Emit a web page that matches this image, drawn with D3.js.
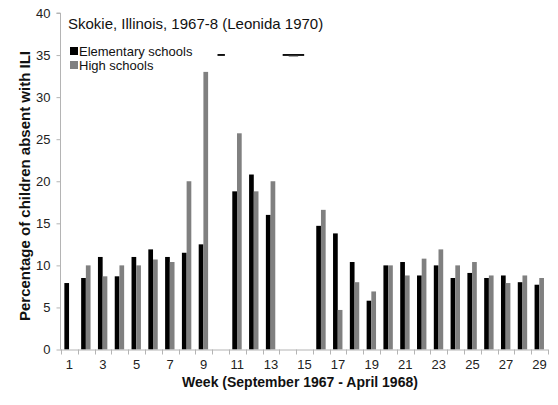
<!DOCTYPE html>
<html><head><meta charset="utf-8">
<script src="https://cdn.jsdelivr.net/npm/d3@7"></script>
<style>body{margin:0;background:#fff}svg{display:block;font-family:"Liberation Sans",Arial,sans-serif}</style>
</head><body>
<script>
const weeks = d3.range(1, 30);
const elementary = [7.9,8.5,11,8.7,11,11.9,11,11.5,12.5,null,18.8,20.8,16,null,null,14.7,13.8,10.4,5.8,10,10.4,8.8,10,8.5,9.1,8.5,8.8,8,7.7];
const highSchool = [null,10,8.7,10,10,10.7,10.4,20,33,null,25.7,18.8,20,null,null,16.6,4.7,8,6.9,10,8.8,10.8,11.9,10,10.4,8.8,7.9,8.8,8.5];
const yTicks = [0,5,10,15,20,25,30,35,40];
const xTickLabels = [1,3,5,7,9,11,13,15,17,19,21,23,25,27,29];
const seriesNames = ["Elementary schools","High schools"];
const seriesColors = ["#000000","#808080"];
const breakMarks = [{from:10,to:10,value:35},{from:14,to:15,value:35}];

const W=558,H=405;
const svg=d3.select("body").append("svg").attr("width",W).attr("height",H);
const x=d3.scaleBand().domain(weeks).range([61,548]).paddingInner(0).paddingOuter(0);
const y=d3.scaleLinear().domain([0,40]).range([349.5,13]);
const bw=x.bandwidth();
const sub=d3.scaleBand().domain([0,1]).range([bw*0.2,bw*0.76]);
const axisColor="#b4b4b4";

// bars
[elementary,highSchool].forEach((vals,si)=>{
  svg.append("g").selectAll("rect").data(weeks.map((w,i)=>({w,v:vals[i]})).filter(d=>d.v!=null))
    .join("rect")
    .attr("x",d=>x(d.w)+sub(si)).attr("width",sub.bandwidth())
    .attr("y",d=>y(d.v)).attr("height",d=>y(0)-y(d.v))
    .attr("fill",seriesColors[si]);
});

// break marks
breakMarks.forEach(m=>{
  const x0 = m.from===m.to ? x(m.from)+sub(0)+2 : x(m.from)+sub(0);
  const x1 = m.from===m.to ? x(m.from)+sub(1)+sub.bandwidth() : x(m.to)+sub(1);
  svg.append("rect").attr("x",x0).attr("width",x1-x0).attr("y",y(m.value)-1).attr("height",1.8).attr("fill","#000");
  if(m.from!==m.to){
    svg.append("rect").attr("x",x0+6).attr("width",x1-x0-12).attr("y",y(m.value)+0.8).attr("height",1).attr("fill","#999");
  }
});

// y axis
const ya=svg.append("g").attr("transform","translate(60.5,0)")
  .call(d3.axisLeft(y).tickValues(yTicks).tickSize(4).tickPadding(6));
ya.select(".domain").attr("stroke",axisColor).attr("d",`M-4,${y(40)}H0V${y(0)}`);
ya.selectAll(".tick line").attr("stroke",axisColor);
ya.selectAll(".tick text").attr("font-size",13).attr("fill","#222").attr("font-family","Liberation Sans, Arial, sans-serif");

// x axis
const xa=svg.append("g").attr("transform",`translate(0,${y(0)})`);
xa.append("line").attr("x1",60).attr("x2",548).attr("y1",0.5).attr("y2",0.5).attr("stroke",axisColor);
xa.selectAll("line.t").data(weeks.concat([30])).join("line").attr("class","t")
  .attr("x1",(d,i)=>Math.round(61+i*bw)+0.5).attr("x2",(d,i)=>Math.round(61+i*bw)+0.5)
  .attr("y1",0).attr("y2",5).attr("stroke",axisColor);
xa.selectAll("text").data(xTickLabels).join("text")
  .attr("x",d=>x(d)+bw/2).attr("y",19).attr("text-anchor","middle")
  .attr("font-size",13).attr("fill","#222").text(d=>d);

// titles
svg.append("text").attr("x",300).attr("y",387).attr("text-anchor","middle")
  .attr("font-size",14).attr("font-weight","bold").attr("fill","#111").text("Week (September 1967 - April 1968)");
svg.append("text").attr("transform","translate(30,186) rotate(-90)").attr("text-anchor","middle")
  .attr("font-size",15).attr("font-weight","bold").attr("fill","#111").text("Percentage of children absent with ILI");
svg.append("text").attr("x",68).attr("y",29).attr("font-size",15).attr("fill","#111")
  .text("Skokie, Illinois, 1967-8 (Leonida 1970)");

// legend
seriesNames.forEach((n,i)=>{
  const g=svg.append("g").attr("transform",`translate(70,${47+i*14})`);
  g.append("rect").attr("width",8).attr("height",8).attr("fill",seriesColors[i]);
  g.append("text").attr("x",9).attr("y",8.5).attr("font-size",13).attr("fill","#111").text(n);
});
</script>
</body></html>
